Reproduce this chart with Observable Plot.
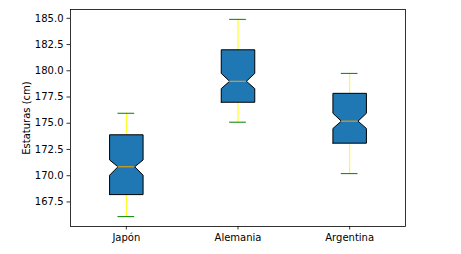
<!DOCTYPE html>
<html><head><meta charset="utf-8">
<script src="https://cdn.jsdelivr.net/npm/d3@7"></script>
<script src="https://cdn.jsdelivr.net/npm/@observablehq/plot@0.6"></script>
<style>body{margin:0;background:#fff}</style>
</head><body><div id="chart"></div>
<script>
const categories = ["Japón", "Alemania", "Argentina"];
const positions = [1, 2, 3];
const whiskerLow = [166.1, 175.1, 170.2];
const q1 = [168.2, 177.0, 173.1];
const notchLow = [170.05, 178.3, 174.5];
const median = [170.85, 179.0, 175.2];
const notchHigh = [171.5, 179.75, 175.95];
const q3 = [173.9, 182.0, 177.85];
const whiskerHigh = [175.95, 184.9, 179.75];
const yTicks = [167.5, 170, 172.5, 175, 177.5, 180, 182.5, 185];

const W = 0.3;          // box width in x units
const hw = W / 2, cw = W / 4;

const boxPts = [];
const stats = categories.map((c, i) => ({
  cat: c, x: positions[i], lo: whiskerLow[i], q1: q1[i], nl: notchLow[i],
  med: median[i], nh: notchHigh[i], q3: q3[i], hi: whiskerHigh[i]
}));
stats.forEach(s => {
  const bl = s.x - hw, br = s.x + hw, cl = s.x - cw, cr = s.x + cw;
  const xs = [bl, br, br, cr, br, br, bl, bl, cl, bl, bl];
  const ys = [s.q1, s.q1, s.nl, s.med, s.nh, s.q3, s.q3, s.nh, s.med, s.nl, s.q1];
  xs.forEach((x, k) => boxPts.push({cat: s.cat, x, y: ys[k]}));
});

const chart = Plot.plot({
  width: 461, height: 254,
  marginLeft: 70, marginRight: 56, marginTop: 9, marginBottom: 28,
  style: {fontFamily: "DejaVu Sans", fontSize: "10px", color: "black", background: "white", overflow: "visible"},
  x: {domain: [0.5, 3.5]},
  y: {domain: [165.16, 185.84]},
  marks: [
    // whiskers
    Plot.ruleX(stats, {x: "x", y1: "q3", y2: "hi", stroke: "yellow", strokeWidth: 1}),
    Plot.ruleX(stats, {x: "x", y1: "q1", y2: "lo", stroke: "yellow", strokeWidth: 1}),
    // caps
    Plot.ruleY(stats, {y: "hi", x1: d => d.x - cw, x2: d => d.x + cw, stroke: "green", strokeWidth: 1}),
    Plot.ruleY(stats, {y: "lo", x1: d => d.x - cw, x2: d => d.x + cw, stroke: "green", strokeWidth: 1}),
    // boxes
    Plot.line(boxPts, {x: "x", y: "y", z: "cat", fill: "#1f77b4", stroke: "black", strokeWidth: 1, curve: "linear"}),
    // medians
    Plot.ruleY(stats, {y: "med", x1: d => d.x - cw, x2: d => d.x + cw, stroke: "orange", strokeWidth: 1}),
    Plot.frame({stroke: "black", strokeWidth: 0.8}),
    Plot.axisY({ticks: yTicks, tickFormat: d => d.toFixed(1), tickSize: 3.5, tickPadding: 3.5, label: null, strokeWidth: 0.8}),
    Plot.axisX({ticks: positions, tickFormat: d => categories[d - 1], tickSize: 3.5, tickPadding: 3.5, label: null, strokeWidth: 0.8}),
    Plot.text(["Estaturas (cm)"], {frameAnchor: "left", dx: -44, rotate: -90, text: d => d, fontSize: 10, textAnchor: "middle", lineAnchor: "middle"})
  ]
});
document.getElementById("chart").appendChild(chart);
</script>
</body></html>
